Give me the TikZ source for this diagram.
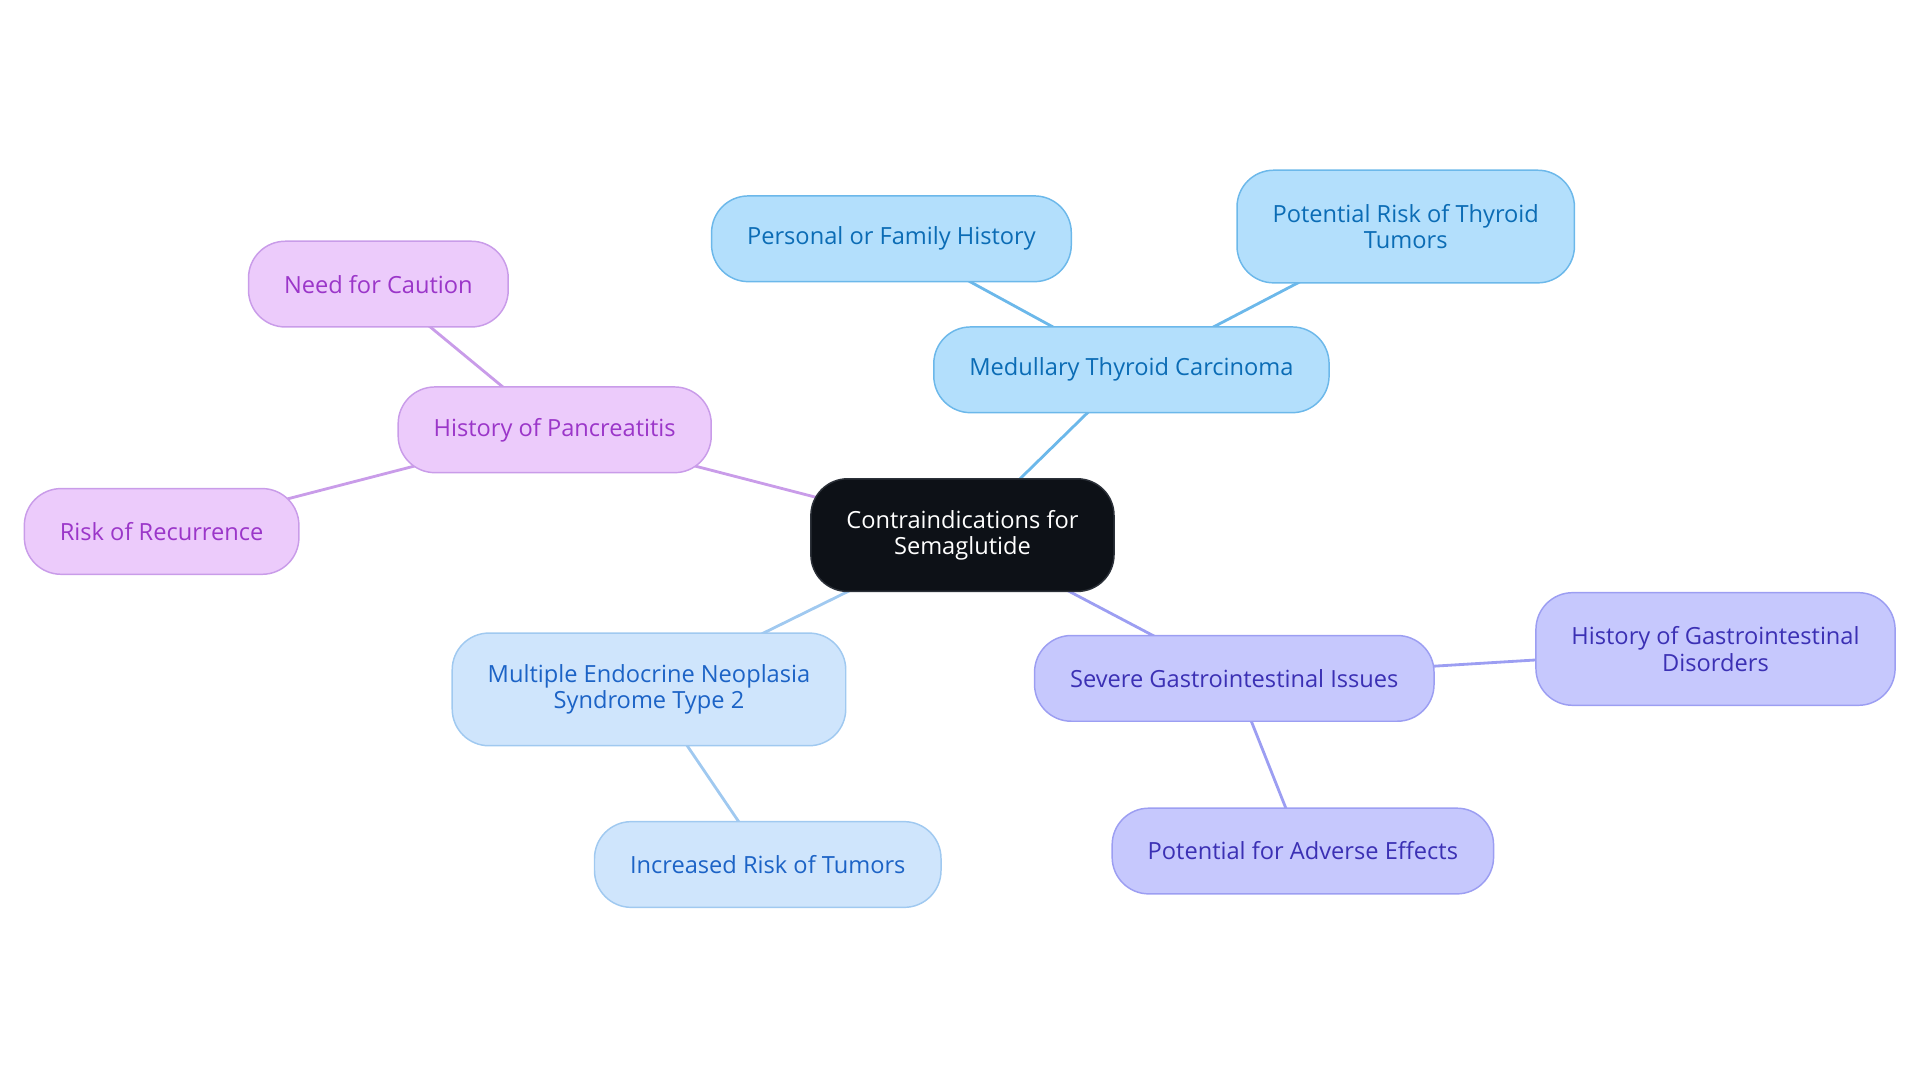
\documentclass[tikz,border=0pt]{standalone}
\usepackage{fontspec}
\setmainfont{Open Sans}
\usetikzlibrary{backgrounds}
\definecolor{rootfill}{HTML}{0D1117}
\definecolor{rootline}{HTML}{2B3038}
\definecolor{thyfill}{HTML}{B3DFFC}
\definecolor{thyline}{HTML}{6CB8EA}
\definecolor{thytext}{HTML}{0B6CB5}
\definecolor{panfill}{HTML}{ECCBFB}
\definecolor{panline}{HTML}{C99CE9}
\definecolor{pantext}{HTML}{9B36C9}
\definecolor{menfill}{HTML}{CFE5FC}
\definecolor{menline}{HTML}{A0C9F0}
\definecolor{mentext}{HTML}{1C63C6}
\definecolor{gifill}{HTML}{C6C8FD}
\definecolor{giline}{HTML}{9C9EF2}
\definecolor{gitext}{HTML}{3B30B4}

\begin{document}
\begin{tikzpicture}[x=1pt, y=-1pt,
        topic/.style={rounded corners=30pt, line width=1.2pt, inner xsep=29pt, minimum height=70pt, align=center, font=\fontsize{19.3}{21.5}\selectfont},
        tall/.style={minimum height=92pt},
        rootbox/.style={topic, tall, draw=rootline, fill=rootfill, text=white},
        thybox/.style={topic, draw=thyline, fill=thyfill, text=thytext},
        panbox/.style={topic, draw=panline, fill=panfill, text=pantext},
        menbox/.style={topic, draw=menline, fill=menfill, text=mentext},
        gibox/.style={topic, draw=giline, fill=gifill, text=gitext},
        link/.style={line width=2.3pt}]
            \useasboundingbox (0,0) rectangle (1568,884);

            \node[rootbox] (root) at (786,437) {Contraindications for\\Semaglutide};

            \node[thybox] (mtc) at (924,302) {Medullary Thyroid Carcinoma};
            \node[thybox] (family) at (728,195) {Personal or Family History};
            \node[thybox, tall] (thyroid) at (1148,185) {Potential Risk of Thyroid\\Tumors};

            \node[panbox] (pancreas) at (453,351) {History of Pancreatitis};
            \node[panbox] (caution) at (309,232) {Need for Caution};
            \node[panbox] (recur) at (132,434) {Risk of Recurrence};

            \node[menbox, tall] (men) at (530,563) {Multiple Endocrine Neoplasia\\Syndrome Type 2};
            \node[menbox] (tumors) at (627,706) {Increased Risk of Tumors};

            \node[gibox] (gi) at (1008,554) {Severe Gastrointestinal Issues};
            \node[gibox, tall] (gihist) at (1401,530) {History of Gastrointestinal\\Disorders};
            \node[gibox] (adverse) at (1064,695) {Potential for Adverse Effects};

            \begin{scope}[on background layer]
            \draw[link, thyline] (root.center) -- (mtc.center);
            \draw[link, thyline] (mtc.center) -- (family.center);
            \draw[link, thyline] (mtc.center) -- (thyroid.center);
            \draw[link, panline] (root.center) -- (pancreas.center);
            \draw[link, panline] (pancreas.center) -- (caution.center);
            \draw[link, panline] (pancreas.center) -- (recur.center);
            \draw[link, menline] (root.center) -- (men.center);
            \draw[link, menline] (men.center) -- (tumors.center);
            \draw[link, giline] (root.center) -- (gi.center);
            \draw[link, giline] (gi.center) -- (gihist.center);
            \draw[link, giline] (gi.center) -- (adverse.center);
            \end{scope}
        \end{tikzpicture}
\end{document}
